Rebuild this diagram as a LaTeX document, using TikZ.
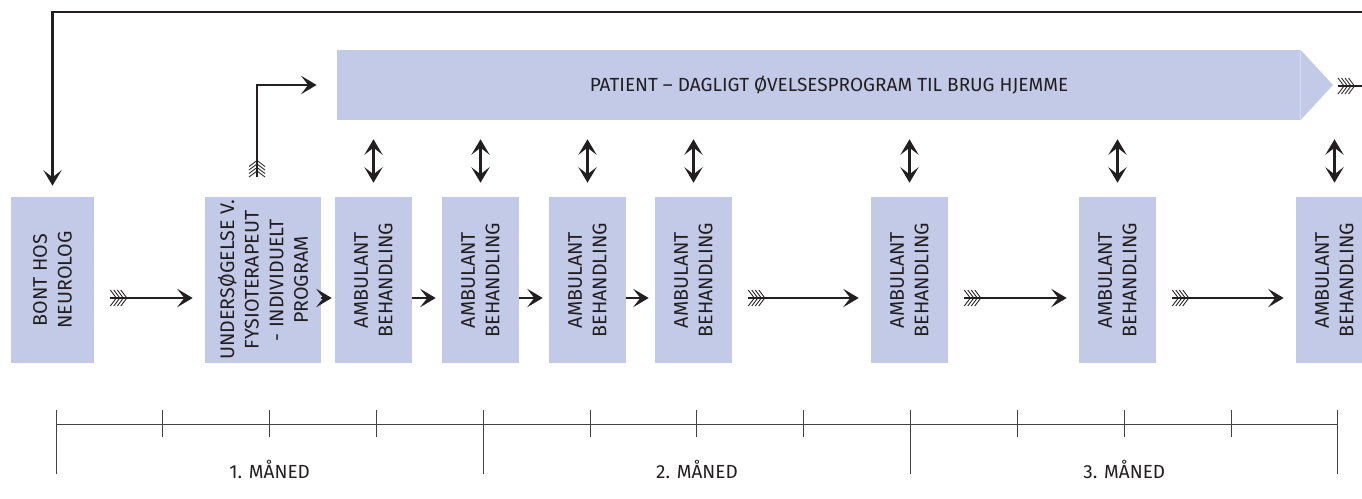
\documentclass[tikz,border=0pt]{standalone}
\usepackage{fontspec}
\setmainfont{Fira Sans}
\usetikzlibrary{arrows.meta,calc}
\definecolor{lavender}{RGB}{195,202,231}
\definecolor{ink}{RGB}{35,31,32}
\newcommand{\flowfont}{\fontsize{13.5pt}{17.5pt}\selectfont}
\newcommand{\boxfont}{\fontsize{14pt}{17.5pt}\selectfont}
\tikzset{
  tip/.style={Stealth[length=11pt,width=13pt,inset=5pt]},
  box/.style={fill=lavender, minimum height=4.15cm, inner sep=0pt},
  boxtext/.style={rotate=90, align=center, text=ink, font=\boxfont},
  arr/.style={draw=ink, line width=1.5pt, -{Stealth[length=11pt,width=13pt,inset=5pt]}},
  dblarr/.style={draw=ink, line width=1.5pt, {Stealth[length=11pt,width=13pt,inset=5pt]}-{Stealth[length=11pt,width=13pt,inset=5pt]}},
  longarr/.style={arr, shorten <=0.4cm, shorten >=0.3cm},
  shortarr/.style={arr, shorten >=0.15cm},
  tickline/.style={draw=ink!85, line width=0.7pt},
  feathers/.pic={
    \foreach \i in {0,...,3}
      \draw[ink, line width=0.6pt] ({3.5*\i},8) -- ({6+3.5*\i},0) -- ({3.5*\i},-8);
  }
}

\begin{document}
\begin{tikzpicture}[x=0.025cm, y=-0.025cm]
  \useasboundingbox (0,0) rectangle (1362,499);
  \clip (0,0) rectangle (1362,499);

  % home programme banner
  \node[fill=lavender, minimum width=24.075cm, minimum height=1.75cm, inner sep=0pt] (banner) at (818.5,85) {};
  \fill[lavender] (banner.north east) -- (1333,85) -- (banner.south east) -- cycle;
  \node[text=ink, font=\flowfont] (bannertext) at (829,85) {PATIENT – DAGLIGT ØVELSESPROGRAM TIL BRUG HJEMME};

  % boxes
  \node[box, minimum width=2.075cm] (bont) at (52.5,280) {};
  \node[boxtext] at (bont) {BONT HOS\\NEUROLOG};
  \node[box, minimum width=2.9cm] (us) at (263,280) {};
  \node[boxtext] at (us) {UNDERSØGELSE V.\\FYSIOTERAPEUT\\- INDIVIDUELT\\PROGRAM};
  \foreach \n/\x in {a1/373.5, a2/480.5, a3/587.5, a4/693.5, a5/909.5, a6/1117.5, a7/1334.5} {
    \node[box, minimum width=1.925cm] (\n) at (\x,280) {};
    \node[boxtext] at (\n) {AMBULANT\\BEHANDLING};
    \draw[dblarr, shorten <=0.475cm, shorten >=0.35cm] (\n.north |- banner.south) -- (\n.north);
  }

  % flow arrows
  \coordinate (flow) at (0,298);
  \draw[arr, shorten >=0.075cm] (us.east |- flow) -- (a1.west |- flow);
  \foreach \a/\b in {a1/a2, a2/a3, a3/a4}
    \draw[shortarr] (\a.east |- flow) -- (\b.west |- flow);
  \foreach \a/\b in {bont/us, a4/a5, a5/a6, a6/a7} {
    \draw[longarr] (\a.east |- flow) -- (\b.west |- flow);
    \pic at ($(\a.east |- flow)+(16,0)$) {feathers};
  }

  % loop back to the neurologist
  \coordinate (loopin) at (1375,12);
  \draw[arr, shorten >=0.275cm] (loopin) -| (bont.north);
  \coordinate (loopstart) at (1338,86);
  \coordinate (loopout) at (1375,86);
  \draw[ink, line width=1.5pt] (loopstart) -- (loopout);
  \pic at (loopstart) {feathers};

  % examination into the banner
  \coordinate (fstart) at (257,177);
  \draw[arr, shorten >=0.5cm] (fstart) |- (banner.west);
  \pic[rotate=90] at (fstart) {feathers};

  % timeline
  \draw[tickline] (56,424) -- (1338,424);
  \foreach \i in {0,...,12}
    \draw[tickline] ({56+106.83*\i},410) -- ({56+106.83*\i},437);
  \foreach \i in {0,4,8,12}
    \draw[tickline] ({56+106.83*\i},410) -- ({56+106.83*\i},474);
  \foreach \m/\i in {1/2, 2/6, 3/10}
    \node[text=ink, font=\flowfont] (month\m) at ({56+106.83*\i},469) {\m. MÅNED};
\end{tikzpicture}
\end{document}
